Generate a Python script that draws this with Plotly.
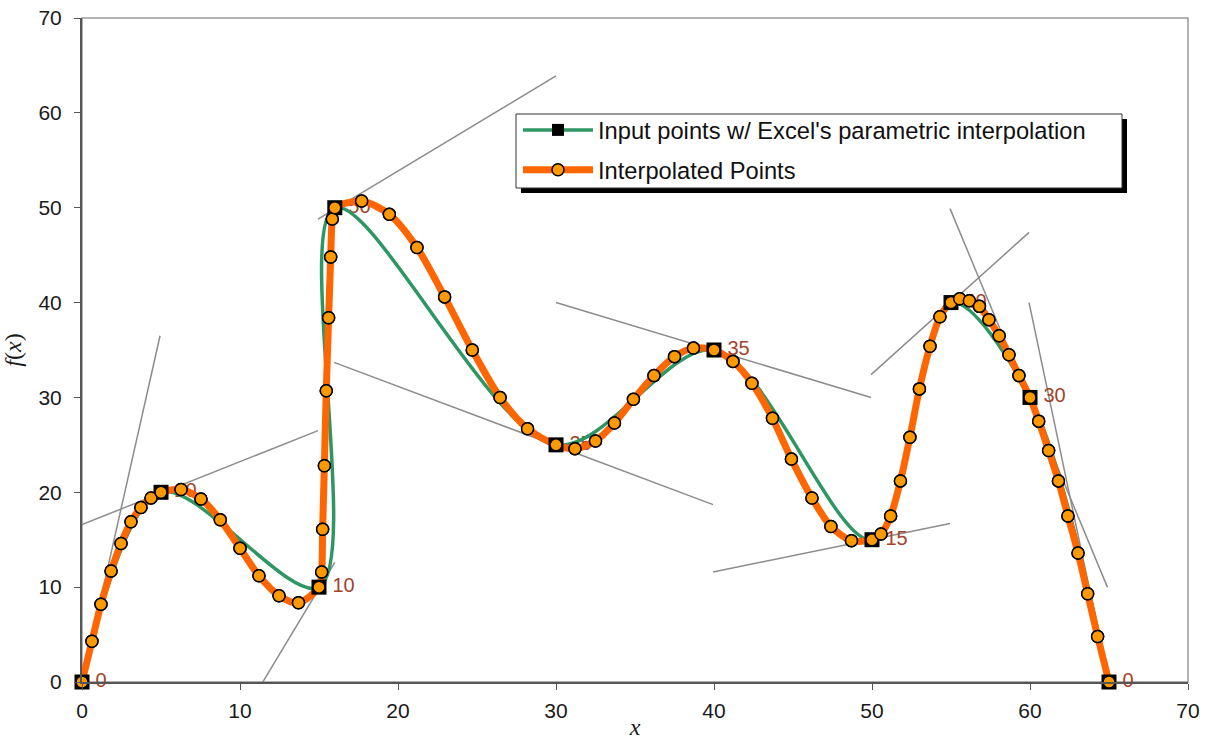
import plotly.graph_objects as go

# Input points (Excel smoothed line)
input_x = [0, 5, 15, 16, 30, 40, 50, 55, 60, 65]
input_y = [0, 20, 10, 50, 25, 35, 15, 40, 30, 0]
input_labels = ["0", "20", "10", "50", "25", "35", "15", "40", "30", "0"]

# Interpolated points
interp_x = [0, 0.63, 1.2, 1.84, 2.47, 3.1, 3.73, 4.37, 5.0,
            6.27, 7.53, 8.75, 10.0, 11.2, 12.47, 13.7, 15.0,
            15.17, 15.23, 15.34, 15.46, 15.61, 15.74, 15.84, 16.0,
            17.7, 19.45, 21.2, 22.95, 24.7, 26.46, 28.2, 30.0,
            31.2, 32.5, 33.7, 34.9, 36.2, 37.5, 38.7, 40.0,
            41.2, 42.4, 43.7, 44.9, 46.2, 47.4, 48.7, 50.0,
            50.57, 51.18, 51.8, 52.4, 53.0, 53.67, 54.3, 55.0,
            55.55, 56.16, 56.8, 57.4, 58.05, 58.67, 59.3, 60.0,
            60.55, 61.18, 61.8, 62.4, 63.04, 63.65, 64.28, 65.0]
interp_y = [0, 4.3, 8.2, 11.7, 14.6, 16.9, 18.4, 19.4, 20.0,
            20.3, 19.3, 17.1, 14.1, 11.2, 9.1, 8.35, 10.0,
            11.6, 16.1, 22.8, 30.7, 38.4, 44.8, 48.8, 50.0,
            50.7, 49.3, 45.8, 40.6, 35.0, 30.0, 26.7, 25.0,
            24.6, 25.4, 27.3, 29.8, 32.3, 34.3, 35.2, 35.0,
            33.8, 31.5, 27.8, 23.5, 19.4, 16.4, 14.9, 15.0,
            15.6, 17.5, 21.2, 25.8, 30.9, 35.4, 38.5, 40.0,
            40.4, 40.2, 39.6, 38.2, 36.5, 34.5, 32.3, 30.0,
            27.5, 24.4, 21.2, 17.5, 13.6, 9.3, 4.8, 0]

# Tangent line segments (start and end points)
tan_x0 = [0, 0, 11.14, 14.94, 15.95, 30.0, 39.94, 49.94, 54.94, 59.94]
tan_y0 = [0, 16.6, -0.84, 48.8, 33.7, 40.0, 11.6, 32.4, 49.9, 40.0]
tan_x1 = [4.94, 14.94, 16.0, 30.0, 39.94, 49.94, 54.94, 59.94, 64.9, 65.0]
tan_y1 = [36.5, 26.5, 12.6, 63.9, 18.7, 30.0, 16.7, 47.4, 10.0, 0]

x_ticks = [0, 10, 20, 30, 40, 50, 60, 70]
y_ticks = [0, 10, 20, 30, 40, 50, 60, 70]

GREEN = "#2E9663"
ORANGE = "#FF6600"
MARK = "#FF9900"
LABEL = "#A2432B"
FONT = "Liberation Sans, Arial, sans-serif"
SERIF = "Liberation Serif, Times New Roman, serif"

seg_x, seg_y = [], []
for a, b, c, d in zip(tan_x0, tan_y0, tan_x1, tan_y1):
    seg_x += [a, c, None]
    seg_y += [b, d, None]

fig = go.Figure()
fig.add_trace(go.Scatter(x=seg_x, y=seg_y, mode="lines",
                         line=dict(color="#8C8C8C", width=1.5),
                         showlegend=False, hoverinfo="skip"))
fig.add_trace(go.Scatter(x=input_x, y=input_y, mode="markers+text",
                         text=input_labels, textposition="middle right",
                         textfont=dict(color=LABEL, size=20, family=FONT),
                         marker=dict(symbol="square", size=20, color="rgba(0,0,0,0)"),
                         showlegend=False, cliponaxis=False, hoverinfo="skip"))
fig.add_trace(go.Scatter(x=input_x, y=input_y, mode="lines+markers",
                         name="Input points w/ Excel's parametric interpolation",
                         legendgroup="a",
                         line=dict(color=GREEN, width=3.5, shape="spline", smoothing=0.9),
                         marker=dict(symbol="square", size=12, color="black")))
fig.add_trace(go.Scatter(x=interp_x, y=interp_y, mode="lines+markers",
                         name="Interpolated Points",
                         legendgroup="b",
                         line=dict(color=ORANGE, width=7, shape="spline", smoothing=0.8),
                         marker=dict(symbol="circle", size=12, color=MARK,
                                     line=dict(color="black", width=1.5))))
fig.add_trace(go.Scatter(x=input_x, y=input_y, mode="markers",
                         marker=dict(symbol="square", size=15, color="black"),
                         showlegend=False, cliponaxis=False, hoverinfo="skip"))
fig.add_trace(go.Scatter(x=interp_x, y=interp_y, mode="markers",
                         marker=dict(symbol="circle", size=12, color=MARK,
                                     line=dict(color="black", width=1.5)),
                         showlegend=False, cliponaxis=False))

axis_common = dict(showgrid=False, zeroline=False, showline=True, linecolor="#555555",
                   linewidth=2, ticks="outside", ticklen=6, tickcolor="#555555",
                   automargin=False, ticklabeloverflow="allow",
                   tickfont=dict(size=21, family=FONT, color="#1a1a1a"))

# plot area in page pixels: x 82..1188, y 18..682
PW, PH = 1106.0, 664.0
def px(xp):
    return (xp - 82) / PW
def py(yp):
    return (682 - yp) / PH

fig.update_layout(
    width=1207, height=740,
    margin=dict(l=82, r=19, t=18, b=58, autoexpand=False),
    paper_bgcolor="white", plot_bgcolor="white",
    xaxis=dict(range=[0, 70], tickvals=x_ticks, ticklabelstandoff=3, **axis_common,
               title=dict(text="<i>x</i>", font=dict(family=SERIF, size=24, color="#1a1a1a"),
                          standoff=2)),
    yaxis=dict(range=[0, 70], tickvals=y_ticks, ticklabelstandoff=8, **axis_common,
               title=dict(text="<i>f</i>(<i>x</i>)", font=dict(family=SERIF, size=24, color="#1a1a1a"),
                          standoff=14)),
    legend=dict(x=px(518), y=py(108), xanchor="left", yanchor="top",
                bgcolor="rgba(0,0,0,0)", borderwidth=0,
                font=dict(size=23.7, family=FONT, color="#111111"),
                traceorder="grouped", tracegroupgap=6, itemwidth=70),
    shapes=[
        dict(type="rect", xref="paper", yref="paper", x0=0, y0=0, x1=1, y1=1,
             line=dict(color="#999999", width=1.5), layer="below"),
        dict(type="rect", xref="paper", yref="paper",
             x0=px(521), x1=px(1127), y0=py(193), y1=py(119),
             fillcolor="black", line=dict(width=0), layer="above"),
        dict(type="rect", xref="paper", yref="paper",
             x0=px(516), x1=px(1122), y0=py(188), y1=py(114),
             fillcolor="white", line=dict(color="#333333", width=1), layer="above"),
    ],
    showlegend=True,
)

fig.write_html("out.html", config={"displayModeBar": False},
               post_script="document.body.style.margin='0px';")
